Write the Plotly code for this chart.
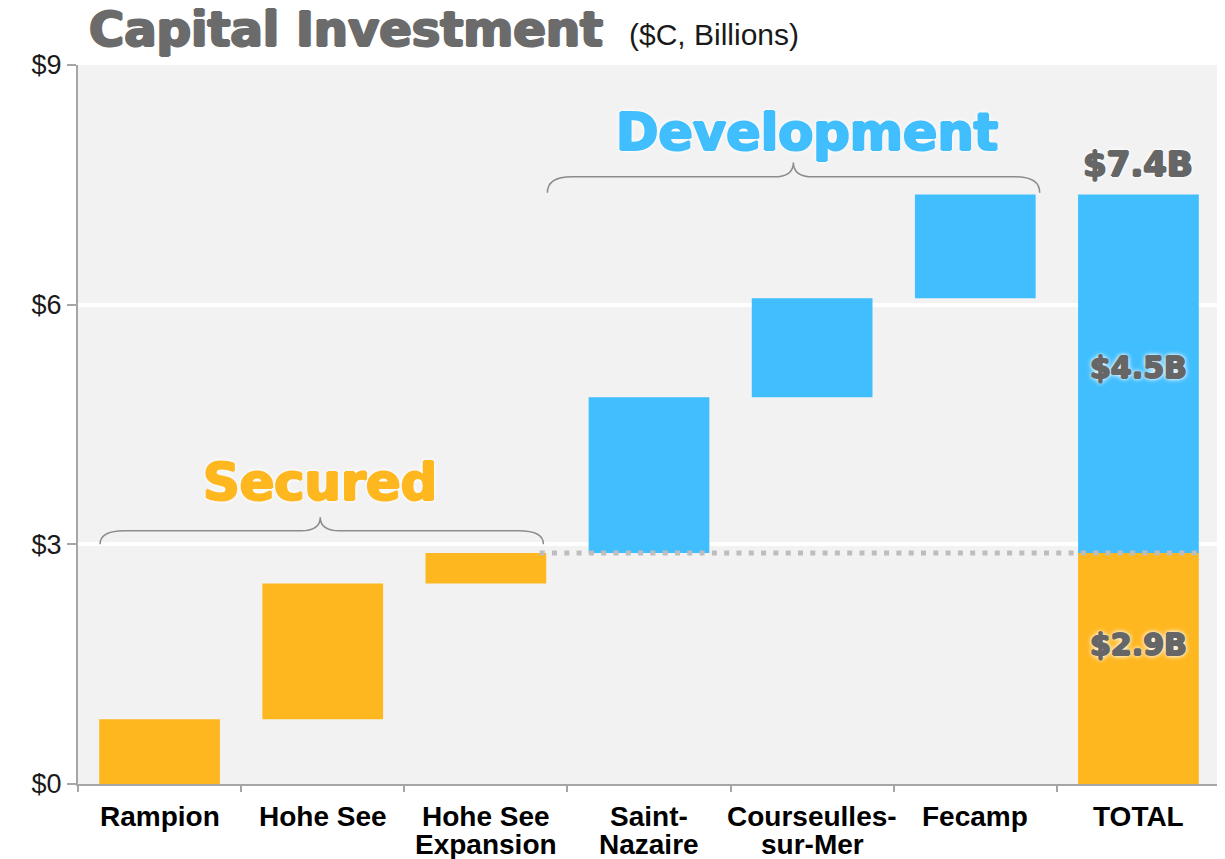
import plotly.graph_objects as go

# ---------------- data ----------------
categories = ["Rampion", "Hohe See", "Hohe See<br>Expansion", "Saint-<br>Nazaire",
              "Courseulles-<br>sur-Mer", "Fecamp", "TOTAL"]
project_groups = ["Secured", "Secured", "Secured", "Development", "Development", "Development"]
project_values = [0.81, 1.70, 0.38, 1.95, 1.24, 1.30]
total_labels = {"Secured": "$2.9B", "Development": "$4.5B", "Total": "$7.4B"}
y_tick_values = [0, 3, 6, 9]
y_tick_labels = ["$0", "$3", "$6", "$9"]

# ---------------- styles ----------------
ORANGE = "#FFB71F"
BLUE = "#40BEFD"
GRAY_TXT = "#666666"
AXIS_GRAY = "#A6A6A6"
BRACE_GRAY = "#8C8C8C"
HEAVY = "DejaVu Sans"
ARIAL = "Liberation Sans, Arial, sans-serif"
colors = {"Secured": ORANGE, "Development": BLUE}


def heavy_shadow(col, w=1.0, glow=True):
    s = (f"{w}px 0px 0px {col}, -{w}px 0px 0px {col}, "
         f"0px {w * 0.7}px 0px {col}, 0px -{w * 0.7}px 0px {col}")
    if glow:
        s += ", 0px 0px 3px #ffffff, 0px 0px 5px #ffffff, 0px 0px 6px #ffffff"
    return s


# cumulative bases for the waterfall
bases = []
running = 0.0
for v in project_values:
    bases.append(running)
    running += v
secured_sum = sum(v for v, g in zip(project_values, project_groups) if g == "Secured")
development_sum = sum(v for v, g in zip(project_values, project_groups) if g == "Development")
grand_total = secured_sum + development_sum

fig = go.Figure()
for grp in ["Secured", "Development"]:
    idx = [i for i, g in enumerate(project_groups) if g == grp]
    fig.add_trace(go.Bar(
        x=[categories[i] for i in idx],
        y=[project_values[i] for i in idx],
        base=[bases[i] for i in idx],
        marker=dict(color=colors[grp], line=dict(width=0)),
        width=0.74, hoverinfo="skip", showlegend=False,
    ))
# total stacked bar
fig.add_trace(go.Bar(x=[categories[-1]], y=[secured_sum], base=[0],
                     marker=dict(color=ORANGE, line=dict(width=0)), width=0.74,
                     hoverinfo="skip", showlegend=False))
fig.add_trace(go.Bar(x=[categories[-1]], y=[development_sum], base=[secured_sum],
                     marker=dict(color=BLUE, line=dict(width=0)), width=0.74,
                     hoverinfo="skip", showlegend=False))


def brace(xl, xr, xc, ye, yl, yt, dxe, dxc):
    return (f"M {xl},{ye} Q {xl},{yl} {xl + dxe},{yl} L {xc - dxc},{yl} "
            f"Q {xc},{yl} {xc},{yt} Q {xc},{yl} {xc + dxc},{yl} "
            f"L {xr - dxe},{yl} Q {xr},{yl} {xr},{ye}")


shapes = [
    dict(type="path", xref="x", yref="y",
         path=brace(-0.365, 2.353, 0.985, 3.0, 3.17, 3.34, 0.15, 0.12),
         line=dict(color=BRACE_GRAY, width=1.5)),
    dict(type="path", xref="x", yref="y",
         path=brace(2.377, 5.395, 3.885, 7.4, 7.6, 7.78, 0.15, 0.12),
         line=dict(color=BRACE_GRAY, width=1.5)),
    dict(type="line", xref="x", yref="y", x0=2.33, x1=6.36, y0=secured_sum, y1=secured_sum,
         line=dict(color="#BDBDBD", width=5, dash="5px,7.3px")),
]

annotations = [
    dict(text="Capital Investment", xref="paper", yref="paper", x=0.008, y=1,
         xanchor="left", yanchor="bottom", yshift=6, showarrow=False,
         font=dict(family=HEAVY, size=48, color="#6B6B6B", weight="bold",
                   shadow=heavy_shadow("#6B6B6B", 1.3, glow=False))),
    dict(text="($C, Billions)", xref="paper", yref="paper", x=0.481, y=1,
         xanchor="left", yanchor="bottom", yshift=12, showarrow=False,
         font=dict(family=ARIAL, size=30, color="#1A1A1A")),
    dict(text="Secured", xref="x", yref="y", x=0.985, y=3.775, showarrow=False,
         font=dict(family=HEAVY, size=51, color=ORANGE, weight="bold",
                   shadow=heavy_shadow(ORANGE, 1.2))),
    dict(text="Development", xref="x", yref="y", x=3.966, y=8.15, showarrow=False,
         font=dict(family=HEAVY, size=51, color=BLUE, weight="bold",
                   shadow=heavy_shadow(BLUE, 1.2))),
    dict(text=total_labels["Total"], xref="x", yref="y", x=6, y=grand_total,
         yanchor="bottom", yshift=8, showarrow=False,
         font=dict(family=HEAVY, size=34, color=GRAY_TXT, weight="bold",
                   shadow=heavy_shadow(GRAY_TXT, 1.1))),
    dict(text=total_labels["Development"], xref="x", yref="y", x=6,
         y=secured_sum + development_sum / 2, yshift=6, showarrow=False,
         font=dict(family=HEAVY, size=30, color=GRAY_TXT, weight="bold",
                   shadow=heavy_shadow(GRAY_TXT, 1.0))),
    dict(text=total_labels["Secured"], xref="x", yref="y", x=6,
         y=secured_sum / 2, yshift=24, showarrow=False,
         font=dict(family=HEAVY, size=30, color=GRAY_TXT, weight="bold",
                   shadow=heavy_shadow(GRAY_TXT, 1.0))),
]

# category labels, one text per line so the line spacing can match the reference
for i, cat in enumerate(categories):
    for j, line in enumerate(cat.split("<br>")):
        annotations.append(dict(
            text=line, xref="x", yref="paper", x=i, y=0, xanchor="center",
            yanchor="top", yshift=-15 - 28 * j, showarrow=False,
            font=dict(family=ARIAL, size=28, color="#000000", weight="bold")))

# the page adds an 8px body margin, so the figure is sized/offset to compensate
fig.update_layout(
    width=1212, height=851,
    margin=dict(l=70, r=0, t=57, b=75),
    paper_bgcolor="white", plot_bgcolor="#F2F2F2",
    barmode="overlay", bargap=0.26, showlegend=False, hovermode=False,
    shapes=shapes, annotations=annotations,
)
fig.update_xaxes(
    type="category", categoryorder="array", categoryarray=categories,
    range=[-0.5, 6.5], tickson="boundaries", ticks="outside", ticklen=6,
    tickcolor=AXIS_GRAY, tickwidth=2, showline=True, linecolor=AXIS_GRAY, linewidth=2,
    showgrid=False, zeroline=False, automargin=False, showticklabels=False,
)
fig.update_yaxes(
    range=[0, 9], tickmode="array", tickvals=y_tick_values, ticktext=y_tick_labels,
    ticks="outside", ticklen=9, tickcolor=AXIS_GRAY, tickwidth=2,
    showline=True, linecolor=AXIS_GRAY, linewidth=2, automargin=False,
    showgrid=True, gridcolor="#FFFFFF", gridwidth=4, zeroline=False,
    tickfont=dict(family=ARIAL, size=27, color="#1A1A1A"),
)

fig.write_html("out.html")
